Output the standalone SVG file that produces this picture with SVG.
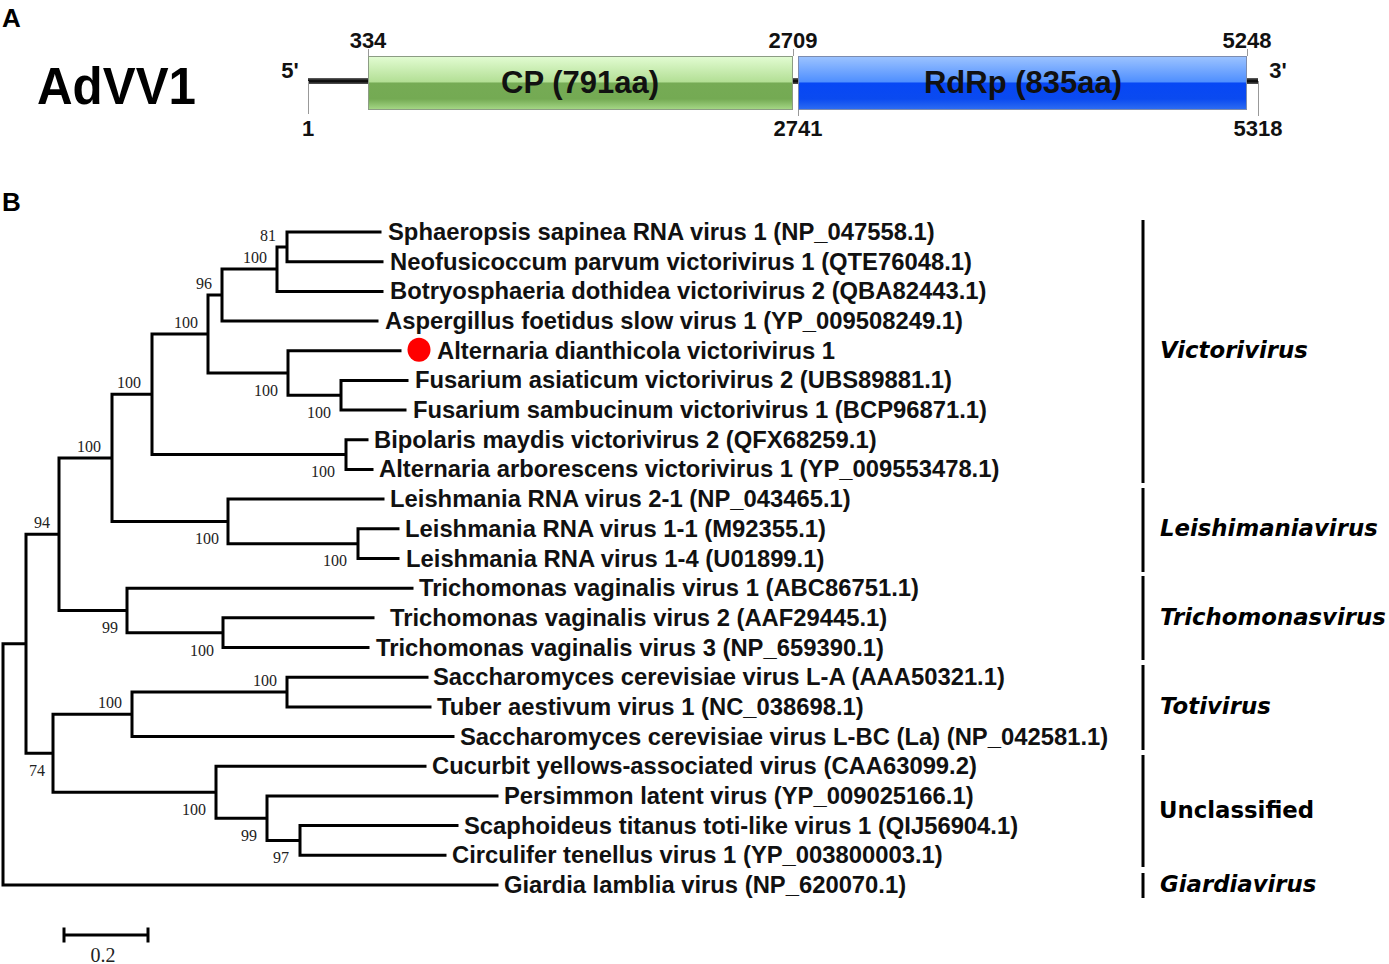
<svg xmlns="http://www.w3.org/2000/svg" width="1389" height="964" viewBox="0 0 1389 964">
<defs>
<linearGradient id="gCP" x1="0" y1="0" x2="0" y2="1">
<stop offset="0" stop-color="#e2fcd2"/>
<stop offset="0.48" stop-color="#b3df95"/>
<stop offset="0.5" stop-color="#76ab55"/>
<stop offset="0.8" stop-color="#74aa53"/>
<stop offset="1" stop-color="#a6d887"/>
</linearGradient>
<linearGradient id="gRd" x1="0" y1="0" x2="0" y2="1">
<stop offset="0" stop-color="#9cc3ff"/>
<stop offset="0.48" stop-color="#4f8fff"/>
<stop offset="0.5" stop-color="#0747f5"/>
<stop offset="0.8" stop-color="#0a4af0"/>
<stop offset="1" stop-color="#2d6cf2"/>
</linearGradient>
<linearGradient id="gLine" x1="0" y1="0" x2="0" y2="1">
<stop offset="0" stop-color="#666"/>
<stop offset="0.5" stop-color="#000"/>
<stop offset="1" stop-color="#555"/>
</linearGradient>
</defs>
<style>
.br{stroke:#000;stroke-width:3;fill:none;stroke-linecap:square}
.lf{font-family:"Liberation Sans",Arial,sans-serif;font-weight:bold;font-size:23.8px;fill:#111}
.bs{font-family:"Liberation Serif","Times New Roman",serif;font-size:16px;fill:#222;text-anchor:middle}
.cl{font-family:"DejaVu Sans",Verdana,sans-serif;font-weight:bold;font-style:italic;font-size:22.8px;fill:#000}
.num{font-family:"Liberation Sans",Arial,sans-serif;font-weight:bold;font-size:22px;fill:#111;text-anchor:middle}
.pl{font-family:"Liberation Sans",Arial,sans-serif;font-weight:bold;font-size:26px;fill:#000}
.tick{stroke:#999;stroke-width:1;fill:none}
.brk{stroke:#000;stroke-width:3;fill:none}
</style>
<rect width="1389" height="964" fill="#fff"/>

<!-- Panel A -->
<text class="pl" x="2" y="27">A</text>
<g id="genome">
<text x="37" y="104" font-family="Liberation Sans,Arial,sans-serif" font-weight="bold" font-size="51" textLength="159" lengthAdjust="spacingAndGlyphs">AdVV1</text>
<rect x="308" y="78" width="950" height="6" fill="url(#gLine)"/>
<path class="tick" d="M308.5,81V114 M368.5,49V56 M793.5,49V56 M798.5,109V116 M1247.5,49V56 M1258.5,81V116"/>
<g id="cp">
<rect x="368.5" y="56.5" width="424" height="53" fill="url(#gCP)" stroke="#8c9c84" stroke-width="1"/>
<text x="580" y="93" font-family="Liberation Sans,Arial,sans-serif" font-weight="bold" font-size="31" fill="#111" text-anchor="middle">CP (791aa)</text>
</g>
<g id="rdrp">
<rect x="798.5" y="56.5" width="448" height="53" fill="url(#gRd)" stroke="#7c8cb0" stroke-width="1"/>
<text x="1023" y="93" font-family="Liberation Sans,Arial,sans-serif" font-weight="bold" font-size="31" fill="#111" text-anchor="middle">RdRp (835aa)</text>
</g>
<text class="num" x="290" y="78">5'</text>
<text class="num" x="1278" y="78">3'</text>
<text class="num" x="368" y="48">334</text>
<text class="num" x="793" y="48">2709</text>
<text class="num" x="1247" y="48">5248</text>
<text class="num" x="308" y="136">1</text>
<text class="num" x="798" y="136">2741</text>
<text class="num" x="1258" y="136">5318</text>
</g>

<!-- Panel B -->
<text class="pl" x="2" y="211">B</text>

<g id="connectors" class="br">
<path d="M287,232V261.7 M287,232H380 M287,261.7H382 M277,246.9H287 M277,246.9V291.4 M277,291.4H382 M222,269.1H277 M222,269.1V321 M222,321H377 M208,295H222 M341,380.4V410.1 M341,380.4H407 M341,410.1H405 M288,395.3H341 M288,350.7V395.3 M288,350.7H400 M208,373H288 M208,295V373 M152,334H208 M346,439.8V469.4 M346,439.8H367 M346,469.4H372 M152,454.6H346 M152,334V454.6 M112,394.3H152 M358,528.8V558.5 M358,528.8H398 M358,558.5H398 M228,543.7H358 M228,499.1V543.7 M228,499.1H383 M112,521.4H228 M112,394.3V521.4 M59,457.9H112 M223,617.8V647.5 M223,617.8H373 M223,647.5H368 M127,632.7H223 M127,588.2V632.7 M127,588.2H412 M59,610.5H127 M59,457.9V610.5 M26,534.2H59 M287,677.2V706.9 M287,677.2H427 M287,706.9H430 M132,692H287 M132,692V736.6 M132,736.6H453 M53,714.3H132 M300,825.6V855.3 M300,825.6H457 M300,855.3H445 M267,840.5H300 M267,796V840.5 M267,796H497 M216,818.2H267 M216,766.3V818.2 M216,766.3H425 M53,792.3H216 M53,714.3V792.3 M26,753.3H53 M26,534.2V753.3 M3,643.8H26 M3,643.8V885 M3,885H497"/>
</g>

<g id="bootstrap">
<text class="bs" x="268" y="241">81</text>
<text class="bs" x="255" y="263">100</text>
<text class="bs" x="204" y="289">96</text>
<text class="bs" x="186" y="328">100</text>
<text class="bs" x="266" y="396">100</text>
<text class="bs" x="319" y="418">100</text>
<text class="bs" x="129" y="388">100</text>
<text class="bs" x="323" y="477">100</text>
<text class="bs" x="89" y="452">100</text>
<text class="bs" x="42" y="528">94</text>
<text class="bs" x="207" y="544">100</text>
<text class="bs" x="335" y="566">100</text>
<text class="bs" x="110" y="633">99</text>
<text class="bs" x="202" y="656">100</text>
<text class="bs" x="265" y="686">100</text>
<text class="bs" x="110" y="708">100</text>
<text class="bs" x="37" y="776">74</text>
<text class="bs" x="194" y="815">100</text>
<text class="bs" x="249" y="841">99</text>
<text class="bs" x="281" y="863">97</text>
</g>

<g id="leaf-sph"><text class="lf" x="388" y="240">Sphaeropsis sapinea RNA virus 1 (NP_047558.1)</text></g>
<g id="leaf-neo"><text class="lf" x="390" y="269.7">Neofusicoccum parvum victorivirus 1 (QTE76048.1)</text></g>
<g id="leaf-bot"><text class="lf" x="390" y="299.4">Botryosphaeria dothidea victorivirus 2 (QBA82443.1)</text></g>
<g id="leaf-asp"><text class="lf" x="385" y="329">Aspergillus foetidus slow virus 1 (YP_009508249.1)</text></g>
<g id="leaf-advv1"><ellipse cx="419" cy="349.7" rx="11.5" ry="12" fill="#ff0000"/><text class="lf" x="437" y="358.7">Alternaria dianthicola victorivirus 1</text></g>
<g id="leaf-fa"><text class="lf" x="415" y="388.4">Fusarium asiaticum victorivirus 2 (UBS89881.1)</text></g>
<g id="leaf-fs"><text class="lf" x="413" y="418.1">Fusarium sambucinum victorivirus 1 (BCP96871.1)</text></g>
<g id="leaf-bip"><text class="lf" x="374" y="447.8">Bipolaris maydis victorivirus 2 (QFX68259.1)</text></g>
<g id="leaf-aa"><text class="lf" x="379" y="477.4">Alternaria arborescens victorivirus 1 (YP_009553478.1)</text></g>
<g id="leaf-l21"><text class="lf" x="390" y="507.1">Leishmania RNA virus 2-1 (NP_043465.1)</text></g>
<g id="leaf-l11"><text class="lf" x="405" y="536.8">Leishmania RNA virus 1-1 (M92355.1)</text></g>
<g id="leaf-l14"><text class="lf" x="406" y="566.5">Leishmania RNA virus 1-4 (U01899.1)</text></g>
<g id="leaf-t1"><text class="lf" x="419" y="596.2">Trichomonas vaginalis virus 1 (ABC86751.1)</text></g>
<g id="leaf-t2"><text class="lf" x="390" y="625.8">Trichomonas vaginalis virus 2 (AAF29445.1)</text></g>
<g id="leaf-t3"><text class="lf" x="376" y="655.5">Trichomonas vaginalis virus 3 (NP_659390.1)</text></g>
<g id="leaf-sla"><text class="lf" x="433" y="685.2">Saccharomyces cerevisiae virus L-A (AAA50321.1)</text></g>
<g id="leaf-tuber"><text class="lf" x="437" y="714.9">Tuber aestivum virus 1 (NC_038698.1)</text></g>
<g id="leaf-lbc"><text class="lf" x="460" y="744.6">Saccharomyces cerevisiae virus L-BC (La) (NP_042581.1)</text></g>
<g id="leaf-cuc"><text class="lf" x="432" y="774.3">Cucurbit yellows-associated virus (CAA63099.2)</text></g>
<g id="leaf-pers"><text class="lf" x="504" y="804">Persimmon latent virus (YP_009025166.1)</text></g>
<g id="leaf-scaph"><text class="lf" x="464" y="833.6">Scaphoideus titanus toti-like virus 1 (QIJ56904.1)</text></g>
<g id="leaf-circ"><text class="lf" x="452" y="863.3">Circulifer tenellus virus 1 (YP_003800003.1)</text></g>
<g id="leaf-giardia"><text class="lf" x="504" y="893">Giardia lamblia virus (NP_620070.1)</text></g>

<g id="clades">
<path class="brk" d="M1143,220V483 M1143,488V572 M1143,576V660 M1143,665V750 M1143,755V867 M1143,873V898"/>
<text class="cl" x="1160" y="358">Victorivirus</text>
<text class="cl" x="1160" y="536">Leishimaniavirus</text>
<text class="cl" x="1160" y="625">Trichomonasvirus</text>
<text class="cl" x="1160" y="714">Totivirus</text>
<text x="1159" y="818" font-family="DejaVu Sans,Verdana,sans-serif" font-weight="bold" font-size="22.8">Unclassified</text>
<text class="cl" x="1160" y="892">Giardiavirus</text>
</g>

<g id="scalebar">
<path class="br" d="M64,935H148 M64,929V941 M148,929V941" stroke-linecap="butt"/>
<text x="103" y="962" font-family="Liberation Serif,Times New Roman,serif" font-size="20" fill="#222" text-anchor="middle">0.2</text>
</g>
</svg>
